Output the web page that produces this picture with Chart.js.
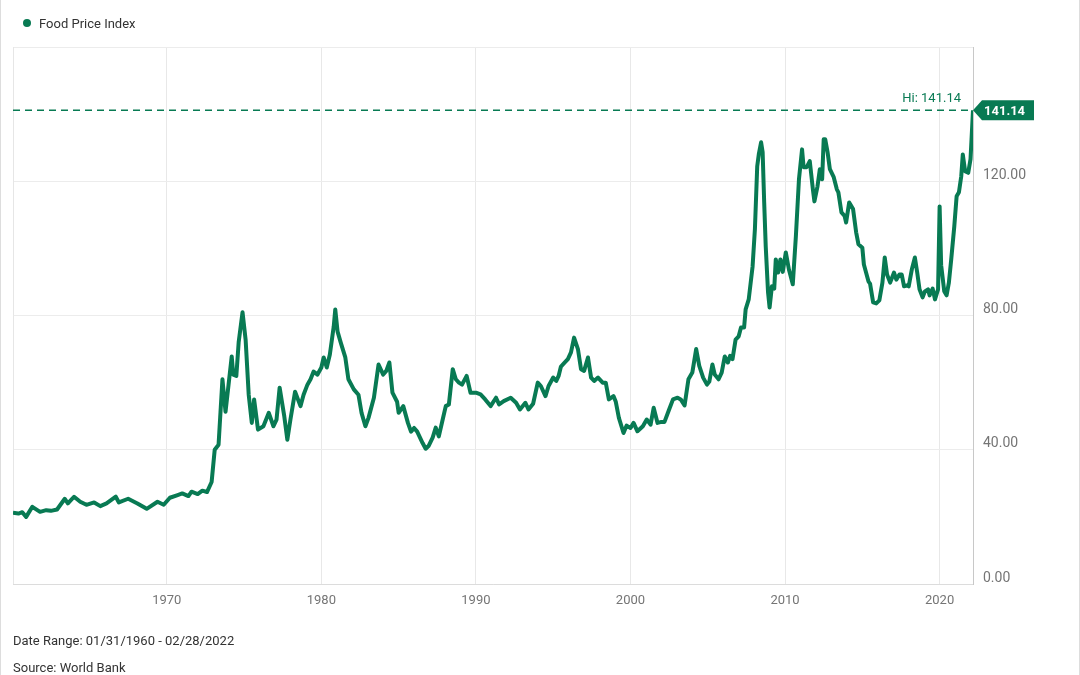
<!DOCTYPE html>
<html>
<head>
<meta charset="utf-8">
<script src="https://cdn.jsdelivr.net/npm/chart.js@4"></script>
<style>
  html, body { margin: 0; padding: 0; background: #fff; }
  #wrap { position: relative; width: 1080px; height: 675px; font-family: Roboto, sans-serif; box-sizing: border-box; border-left: 1px solid #ddd; border-right: 1px solid #ddd; }
  #chart { position: absolute; left: 0; top: 0; }
  .legend { position: absolute; left: 22px; top: 16px; font-size: 13px; color: #333; }
  .legend .dot { display: inline-block; width: 8px; height: 8px; border-radius: 50%; background: #087a53; margin-right: 8px; vertical-align: 1px; }
  .foot { position: absolute; left: 12px; font-size: 13px; color: #333; }
</style>
</head>
<body>
<div id="wrap">
  <canvas id="chart" width="1080" height="675"></canvas>
  <div class="legend"><span class="dot"></span>Food Price Index</div>
  <div class="foot" style="top:633px">Date Range: 01/31/1960 - 02/28/2022</div>
  <div class="foot" style="top:660px">Source: World Bank</div>
</div>
<script>
// decimal years and index values
var years = [
  1960.05, 1960.4, 1960.65, 1960.9, 1961.3, 1961.8, 1962.2, 1962.5, 1962.9, 1963.4,
  1963.6, 1964.0, 1964.4, 1964.8, 1965.3, 1965.7, 1966.1, 1966.7, 1966.9, 1967.5,
  1968.1, 1968.7, 1969.4, 1969.8, 1970.2, 1970.7, 1971.0, 1971.4, 1971.6, 1972.0,
  1972.3, 1972.6, 1972.9, 1973.1, 1973.35, 1973.6, 1973.8, 1974.2, 1974.3, 1974.5,
  1974.65, 1974.9, 1975.1, 1975.3, 1975.5, 1975.65, 1975.9, 1976.25, 1976.6, 1976.9,
  1977.1, 1977.3, 1977.6, 1977.8, 1978.0, 1978.3, 1978.65, 1978.85, 1979.1, 1979.3,
  1979.5, 1979.75, 1980.0, 1980.15, 1980.35, 1980.55, 1980.8, 1980.9, 1981.05, 1981.25,
  1981.55, 1981.75, 1982.1, 1982.4, 1982.6, 1982.85, 1983.05, 1983.4, 1983.7, 1984.0,
  1984.2, 1984.4, 1984.6, 1984.9, 1985.0, 1985.3, 1985.6, 1985.8, 1986.0, 1986.2,
  1986.55, 1986.75, 1986.95, 1987.2, 1987.4, 1987.6, 1987.85, 1988.05, 1988.25, 1988.5,
  1988.7, 1988.9, 1989.1, 1989.4, 1989.65, 1990.0, 1990.3, 1990.6, 1990.95, 1991.3,
  1991.5, 1991.8, 1992.25, 1992.6, 1992.85, 1993.2, 1993.4, 1993.7, 1994.0, 1994.2,
  1994.5, 1994.7, 1995.0, 1995.2, 1995.35, 1995.5, 1995.75, 1995.95, 1996.15, 1996.35,
  1996.6, 1996.8, 1997.0, 1997.25, 1997.45, 1997.65, 1997.9, 1998.2, 1998.4, 1998.6,
  1998.9, 1999.05, 1999.25, 1999.55, 1999.75, 2000.0, 2000.2, 2000.45, 2000.8, 2001.05,
  2001.3, 2001.5, 2001.75, 2002.0, 2002.2, 2002.5, 2002.75, 2003.05, 2003.25, 2003.5,
  2003.75, 2004.0, 2004.25, 2004.45, 2004.7, 2004.95, 2005.1, 2005.3, 2005.45, 2005.7,
  2005.9, 2006.1, 2006.3, 2006.45, 2006.6, 2006.8, 2007.0, 2007.15, 2007.35, 2007.45,
  2007.65, 2007.9, 2008.05, 2008.2, 2008.3, 2008.45, 2008.55, 2008.65, 2008.75, 2008.9,
  2009.0, 2009.15, 2009.3, 2009.4, 2009.55, 2009.7, 2009.85, 2010.05, 2010.25, 2010.5,
  2010.7, 2010.9, 2011.1, 2011.2, 2011.4, 2011.6, 2011.8, 2011.9, 2012.1, 2012.25,
  2012.4, 2012.5, 2012.6, 2012.75, 2012.9, 2013.15, 2013.35, 2013.45, 2013.65, 2013.85,
  2013.95, 2014.15, 2014.4, 2014.6, 2014.75, 2015.0, 2015.1, 2015.4, 2015.5, 2015.7,
  2015.9, 2016.1, 2016.3, 2016.45, 2016.6, 2016.8, 2017.05, 2017.2, 2017.4, 2017.55,
  2017.7, 2017.9, 2018.0, 2018.2, 2018.4, 2018.55, 2018.7, 2018.9, 2019.05, 2019.25,
  2019.35, 2019.55, 2019.7, 2019.9, 2020.0, 2020.1, 2020.3, 2020.45, 2020.6, 2020.75,
  2020.95, 2021.1, 2021.25, 2021.4, 2021.5, 2021.65, 2021.85, 2022.0, 2022.16
];
var values = [
  21.2, 21.0, 21.4, 20.0, 23.0, 21.5, 22.0, 21.8, 22.2, 25.4,
  24.0, 26.0, 24.5, 23.6, 24.3, 23.2, 24.0, 26.0, 24.3, 25.4,
  24.0, 22.4, 24.5, 23.6, 25.7, 26.5, 27.0, 26.2, 27.5, 26.8,
  27.8, 27.4, 30.4, 40.0, 41.5, 61.0, 51.3, 67.8, 62.4, 62.0,
  72.0, 81.0, 72.8, 56.4, 48.0, 55.0, 46.0, 47.0, 51.0, 47.0,
  49.0, 58.5, 50.0, 43.0, 49.0, 57.3, 53.0, 56.4, 59.4, 61.0,
  63.3, 62.4, 64.5, 67.5, 64.5, 68.4, 76.7, 81.8, 75.2, 72.0,
  67.5, 61.0, 58.0, 56.4, 51.0, 47.0, 49.5, 55.5, 65.4, 62.4,
  63.5, 66.0, 57.0, 54.3, 51.0, 53.0, 48.0, 45.4, 46.5, 45.4,
  42.0, 40.3, 41.2, 43.6, 46.6, 44.0, 49.0, 53.0, 53.5, 64.0,
  61.0, 60.0, 59.4, 62.0, 57.0, 57.0, 56.5, 55.0, 53.0, 55.5,
  53.5, 54.5, 55.5, 54.0, 52.0, 54.0, 52.0, 53.7, 60.0, 59.0,
  56.0, 59.0, 61.5, 60.5, 62.0, 64.8, 66.0, 67.0, 69.0, 73.4,
  70.0, 64.0, 63.5, 67.5, 61.5, 60.5, 61.5, 60.0, 60.0, 55.0,
  56.0, 54.3, 49.5, 45.0, 47.2, 46.5, 48.0, 45.5, 47.0, 49.0,
  47.5, 52.5, 48.0, 48.3, 48.3, 52.0, 55.0, 55.5, 55.0, 53.2,
  61.0, 63.0, 70.0, 65.0, 61.5, 59.4, 60.3, 65.4, 62.4, 61.0,
  63.0, 67.8, 66.0, 68.0, 67.0, 72.8, 73.8, 76.4, 76.4, 81.8,
  84.8, 94.6, 105.7, 124.5, 128.0, 131.6, 128.7, 113.7, 100.6, 86.9,
  82.4, 88.7, 88.0, 96.7, 92.8, 96.7, 93.0, 98.8, 93.7, 89.3,
  103.6, 120.6, 129.5, 124.2, 124.2, 126.0, 117.6, 114.0, 118.5, 123.6,
  120.6, 132.5, 132.5, 128.7, 123.6, 121.2, 117.6, 116.7, 110.7, 109.7,
  107.7, 113.7, 111.7, 104.8, 101.2, 100.2, 95.2, 90.1, 89.5, 83.9,
  83.6, 84.5, 89.8, 97.3, 92.2, 89.8, 92.8, 90.7, 92.2, 92.2,
  88.7, 89.0, 88.7, 93.7, 97.3, 92.8, 87.8, 85.4, 87.2, 87.8,
  86.0, 88.0, 84.8, 87.8, 112.5, 95.0, 87.2, 86.0, 89.8, 96.7,
  106.6, 115.5, 116.7, 121.5, 128.0, 123.0, 122.5, 126.6, 141.14
];
var xTicks = [1970, 1980, 1990, 2000, 2010, 2020];
var yTicks = [0, 40, 80, 120, 160];

var green = "#087a53";
var hi = Math.max.apply(null, values);

var points = years.map(function (y, i) { return { x: y, y: values[i] }; });

// dashed high line, its caption and the value tag on the axis
var hiLine = {
  id: "hiLine",
  afterDraw: function (chart) {
    var c = chart.ctx, a = chart.chartArea;
    var y = chart.scales.y.getPixelForValue(hi);
    c.save();
    c.strokeStyle = green;
    c.lineWidth = 1.5;
    c.setLineDash([7, 5]);
    c.beginPath();
    c.moveTo(a.left, y);
    c.lineTo(a.right, y);
    c.stroke();
    c.setLineDash([]);
    c.fillStyle = green;
    c.font = "13px Roboto";
    c.textAlign = "right";
    c.textBaseline = "bottom";
    c.fillText("Hi: " + hi.toFixed(2), a.right - 12, y - 5);
    // tag
    var x0 = a.right;
    c.beginPath();
    c.moveTo(x0, y);
    c.lineTo(x0 + 9, y - 10);
    c.lineTo(x0 + 61, y - 10);
    c.lineTo(x0 + 61, y + 10);
    c.lineTo(x0 + 9, y + 10);
    c.closePath();
    c.fill();
    c.fillStyle = "#fff";
    c.font = "bold 13px Roboto";
    c.textAlign = "left";
    c.textBaseline = "middle";
    c.fillText(hi.toFixed(2), x0 + 11, y + 1);
    c.restore();
  },
  beforeDatasetsDraw: function (chart) {
    var c = chart.ctx, a = chart.chartArea;
    c.save();
    c.strokeStyle = "#e6e6e6";
    c.lineWidth = 1;
    c.beginPath();
    c.moveTo(a.left + 0.5, a.top);
    c.lineTo(a.left + 0.5, a.bottom);
    c.stroke();
    c.restore();
  }
};

var ctx = document.getElementById("chart").getContext("2d");
var chart = new Chart(ctx, {
  type: "line",
  data: {
    datasets: [
      {
        label: "Food Price Index",
        data: points,
        borderColor: green,
        borderWidth: 4,
        pointRadius: 0,
        tension: 0,
        borderJoinStyle: "round",
        fill: false
      }
    ]
  },
  options: {
    responsive: false,
    animation: false,
    layout: { padding: { left: 12, top: 47, right: 0, bottom: 0 } },
    plugins: {
      legend: { display: false },
      tooltip: { enabled: false }
    },
    scales: {
      x: {
        type: "linear",
        min: 1960.05,
        max: 2022.16,
        afterBuildTicks: function (axis) {
          axis.ticks = xTicks.map(function (v) { return { value: v }; });
        },
        afterFit: function (axis) { axis.height = 91; },
        grid: { color: "#e8e8e8", drawTicks: false },
        border: { color: "#dcdcdc" },
        ticks: {
          padding: 9,
          color: "#757575",
          font: { family: "Roboto", size: 13 },
          callback: function (v) { return String(v); }
        }
      },
      y: {
        position: "right",
        min: 0,
        max: 160,
        afterBuildTicks: function (axis) {
          axis.ticks = yTicks.map(function (v) { return { value: v }; });
        },
        afterFit: function (axis) { axis.width = 108; },
        grid: { color: "#ececec", drawTicks: false },
        border: { color: "#c8c8c8" },
        ticks: {
          padding: 10,
          labelOffset: -6,
          color: "#757575",
          font: { family: "Roboto", size: 14 },
          callback: function (v) { return v === 160 ? "" : v.toFixed(2); }
        }
      }
    }
  },
  plugins: [hiLine]
});
</script>
</body>
</html>
